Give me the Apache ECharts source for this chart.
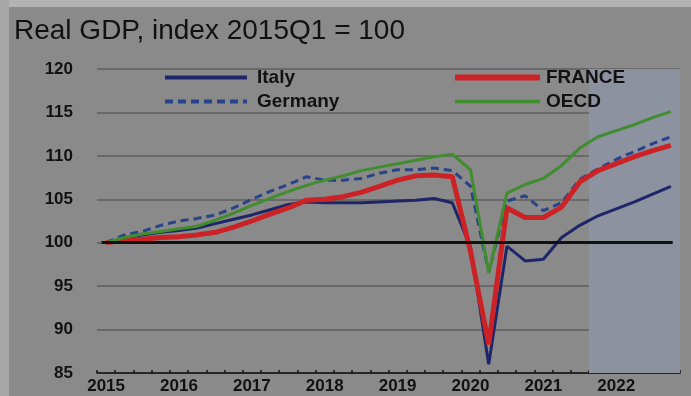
<!DOCTYPE html>
<html><head><meta charset="utf-8">
<script src="https://cdn.jsdelivr.net/npm/echarts@6/dist/echarts.min.js"></script>
<style>html,body{margin:0;padding:0;background:#8a8a8a}#c{width:691px;height:396px}</style>
</head><body><div id="c"></div>
<script>
const titleText = 'Real GDP, index 2015Q1 = 100';
const quarters = ['2015Q1','2015Q2','2015Q3','2015Q4','2016Q1','2016Q2','2016Q3','2016Q4',
  '2017Q1','2017Q2','2017Q3','2017Q4','2018Q1','2018Q2','2018Q3','2018Q4',
  '2019Q1','2019Q2','2019Q3','2019Q4','2020Q1','2020Q2','2020Q3','2020Q4',
  '2021Q1','2021Q2','2021Q3','2021Q4','2022Q1','2022Q2','2022Q3','2022Q4'];
const italy = [100,100.5,100.9,101.2,101.4,101.7,102.2,102.7,103.2,103.8,104.4,104.7,104.6,104.6,104.6,104.7,
  104.8,104.9,105.1,104.6,99.5,86.0,99.6,97.9,98.1,100.6,102.0,103.1,103.9,104.7,105.6,106.5];
const germany = [100,100.9,101.3,102.0,102.5,102.8,103.2,104.0,105.0,105.9,106.7,107.6,107.2,107.2,107.4,108.0,
  108.4,108.4,108.6,108.3,106.5,96.6,104.8,105.4,103.7,104.6,107.3,108.5,109.6,110.5,111.4,112.2];
const france = [100,100.3,100.4,100.6,100.7,100.9,101.2,101.8,102.5,103.3,104.0,104.9,105.0,105.3,105.8,106.5,
  107.2,107.7,107.8,107.6,99.0,88.3,104.0,102.9,102.9,104.1,107.0,108.3,109.1,109.9,110.6,111.2];
const oecd = [100,100.6,101.0,101.3,101.6,101.9,102.6,103.4,104.3,105.1,105.9,106.6,107.2,107.7,108.3,108.7,
  109.1,109.5,109.9,110.2,108.4,96.5,105.7,106.7,107.4,108.9,110.9,112.2,112.9,113.6,114.4,115.1];
const yTicks = [85, 90, 95, 100, 105, 110, 115, 120];
const shadeFrom = '2021Q4';
const baseLine = 100;

const chart = echarts.init(document.getElementById('c'));
const txt = '#111';
const shadeStart = quarters.indexOf(shadeFrom);
chart.setOption({
  backgroundColor: '#8a8a8a',
  animation: false,
  graphic: [
    {type:'rect', shape:{x:0,y:0,width:691,height:7}, style:{fill:'#b3b3b3'}, z:-1, silent:true},
    {type:'rect', shape:{x:0,y:0,width:9,height:396}, style:{fill:'#a6a6a6'}, z:-1, silent:true}
  ],
  title: {text: titleText, left: 9, top: 12,
    textStyle: {fontFamily: 'Liberation Sans', fontSize: 28, fontWeight: 'normal', color: txt}},
  legend: [
    {data: [{name: 'Italy', lineStyle: {width: 4}}, {name: 'Germany', lineStyle: {width: 4}}],
     orient: 'vertical', left: 163, top: 68, padding: 0,
     itemWidth: 82, itemHeight: 14, itemGap: 5, itemStyle: {opacity: 0},
     textStyle: {fontFamily: 'Liberation Sans', fontSize: 19, fontWeight: 'bold', color: txt, padding: [0,0,0,5]}},
    {data: [{name: 'FRANCE', lineStyle: {width: 6}}, {name: 'OECD', lineStyle: {width: 3.5}}],
     orient: 'vertical', left: 452, top: 68, padding: 0,
     itemWidth: 85, itemHeight: 14, itemGap: 5, itemStyle: {opacity: 0},
     textStyle: {fontFamily: 'Liberation Sans', fontSize: 19, fontWeight: 'bold', color: txt, padding: [0,0,0,1]}}
  ],
  grid: {left: 97, right: 11, top: 69, bottom: 23},
  xAxis: [
    {type: 'category', data: quarters, boundaryGap: true,
     axisLine: {lineStyle: {color: '#111', width: 1.5}},
     axisTick: {show: true, interval: 0, inside: true, length: 3, lineStyle: {color: '#111', width: 1.5}},
     axisLabel: {interval: 3, margin: 5, formatter: v => v.slice(0, 4),
       fontFamily: 'Liberation Sans', fontSize: 17, fontWeight: 'bold', color: txt}},
    {type: 'value', min: 0, max: quarters.length, show: false}
  ],
  yAxis: {type: 'value', min: yTicks[0], max: yTicks[yTicks.length-1], interval: 5,
    axisLine: {show: false}, axisTick: {show: false},
    axisLabel: {margin: 24, fontFamily: 'Liberation Sans', fontSize: 17, fontWeight: 'bold', color: txt},
    splitLine: {lineStyle: {color: '#5e5e5e', width: 1.5}}},
  series: [
    {name: '_bg', type: 'line', xAxisIndex: 1, data: [], z: 1, silent: true,
     markArea: {silent: true, itemStyle: {color: '#8d92a1'},
       data: [[{xAxis: shadeStart}, {xAxis: quarters.length}]]},
     markLine: {silent: true, symbol: 'none', label: {show: false},
       lineStyle: {color: '#111', width: 3, type: 'solid'},
       data: [[{coord: [0.25, baseLine]}, {coord: [quarters.length - 0.4, baseLine]}]]}},
    {name: 'Italy', type: 'line', data: italy, symbol: 'none', z: 3,
     lineStyle: {color: '#1d2668', width: 3}, itemStyle: {color: '#1d2668'}},
    {name: 'Germany', type: 'line', data: germany, symbol: 'none', z: 3,
     lineStyle: {color: '#284389', width: 3, type: [8, 5]}, itemStyle: {color: '#284389'}},
    {name: 'FRANCE', type: 'line', data: france, symbol: 'none', z: 3,
     lineStyle: {color: '#cc2226', width: 5}, itemStyle: {color: '#cc2226'}},
    {name: 'OECD', type: 'line', data: oecd, symbol: 'none', z: 3,
     lineStyle: {color: '#3f8d2c', width: 3}, itemStyle: {color: '#3f8d2c'}}
  ]
});
</script></body></html>
